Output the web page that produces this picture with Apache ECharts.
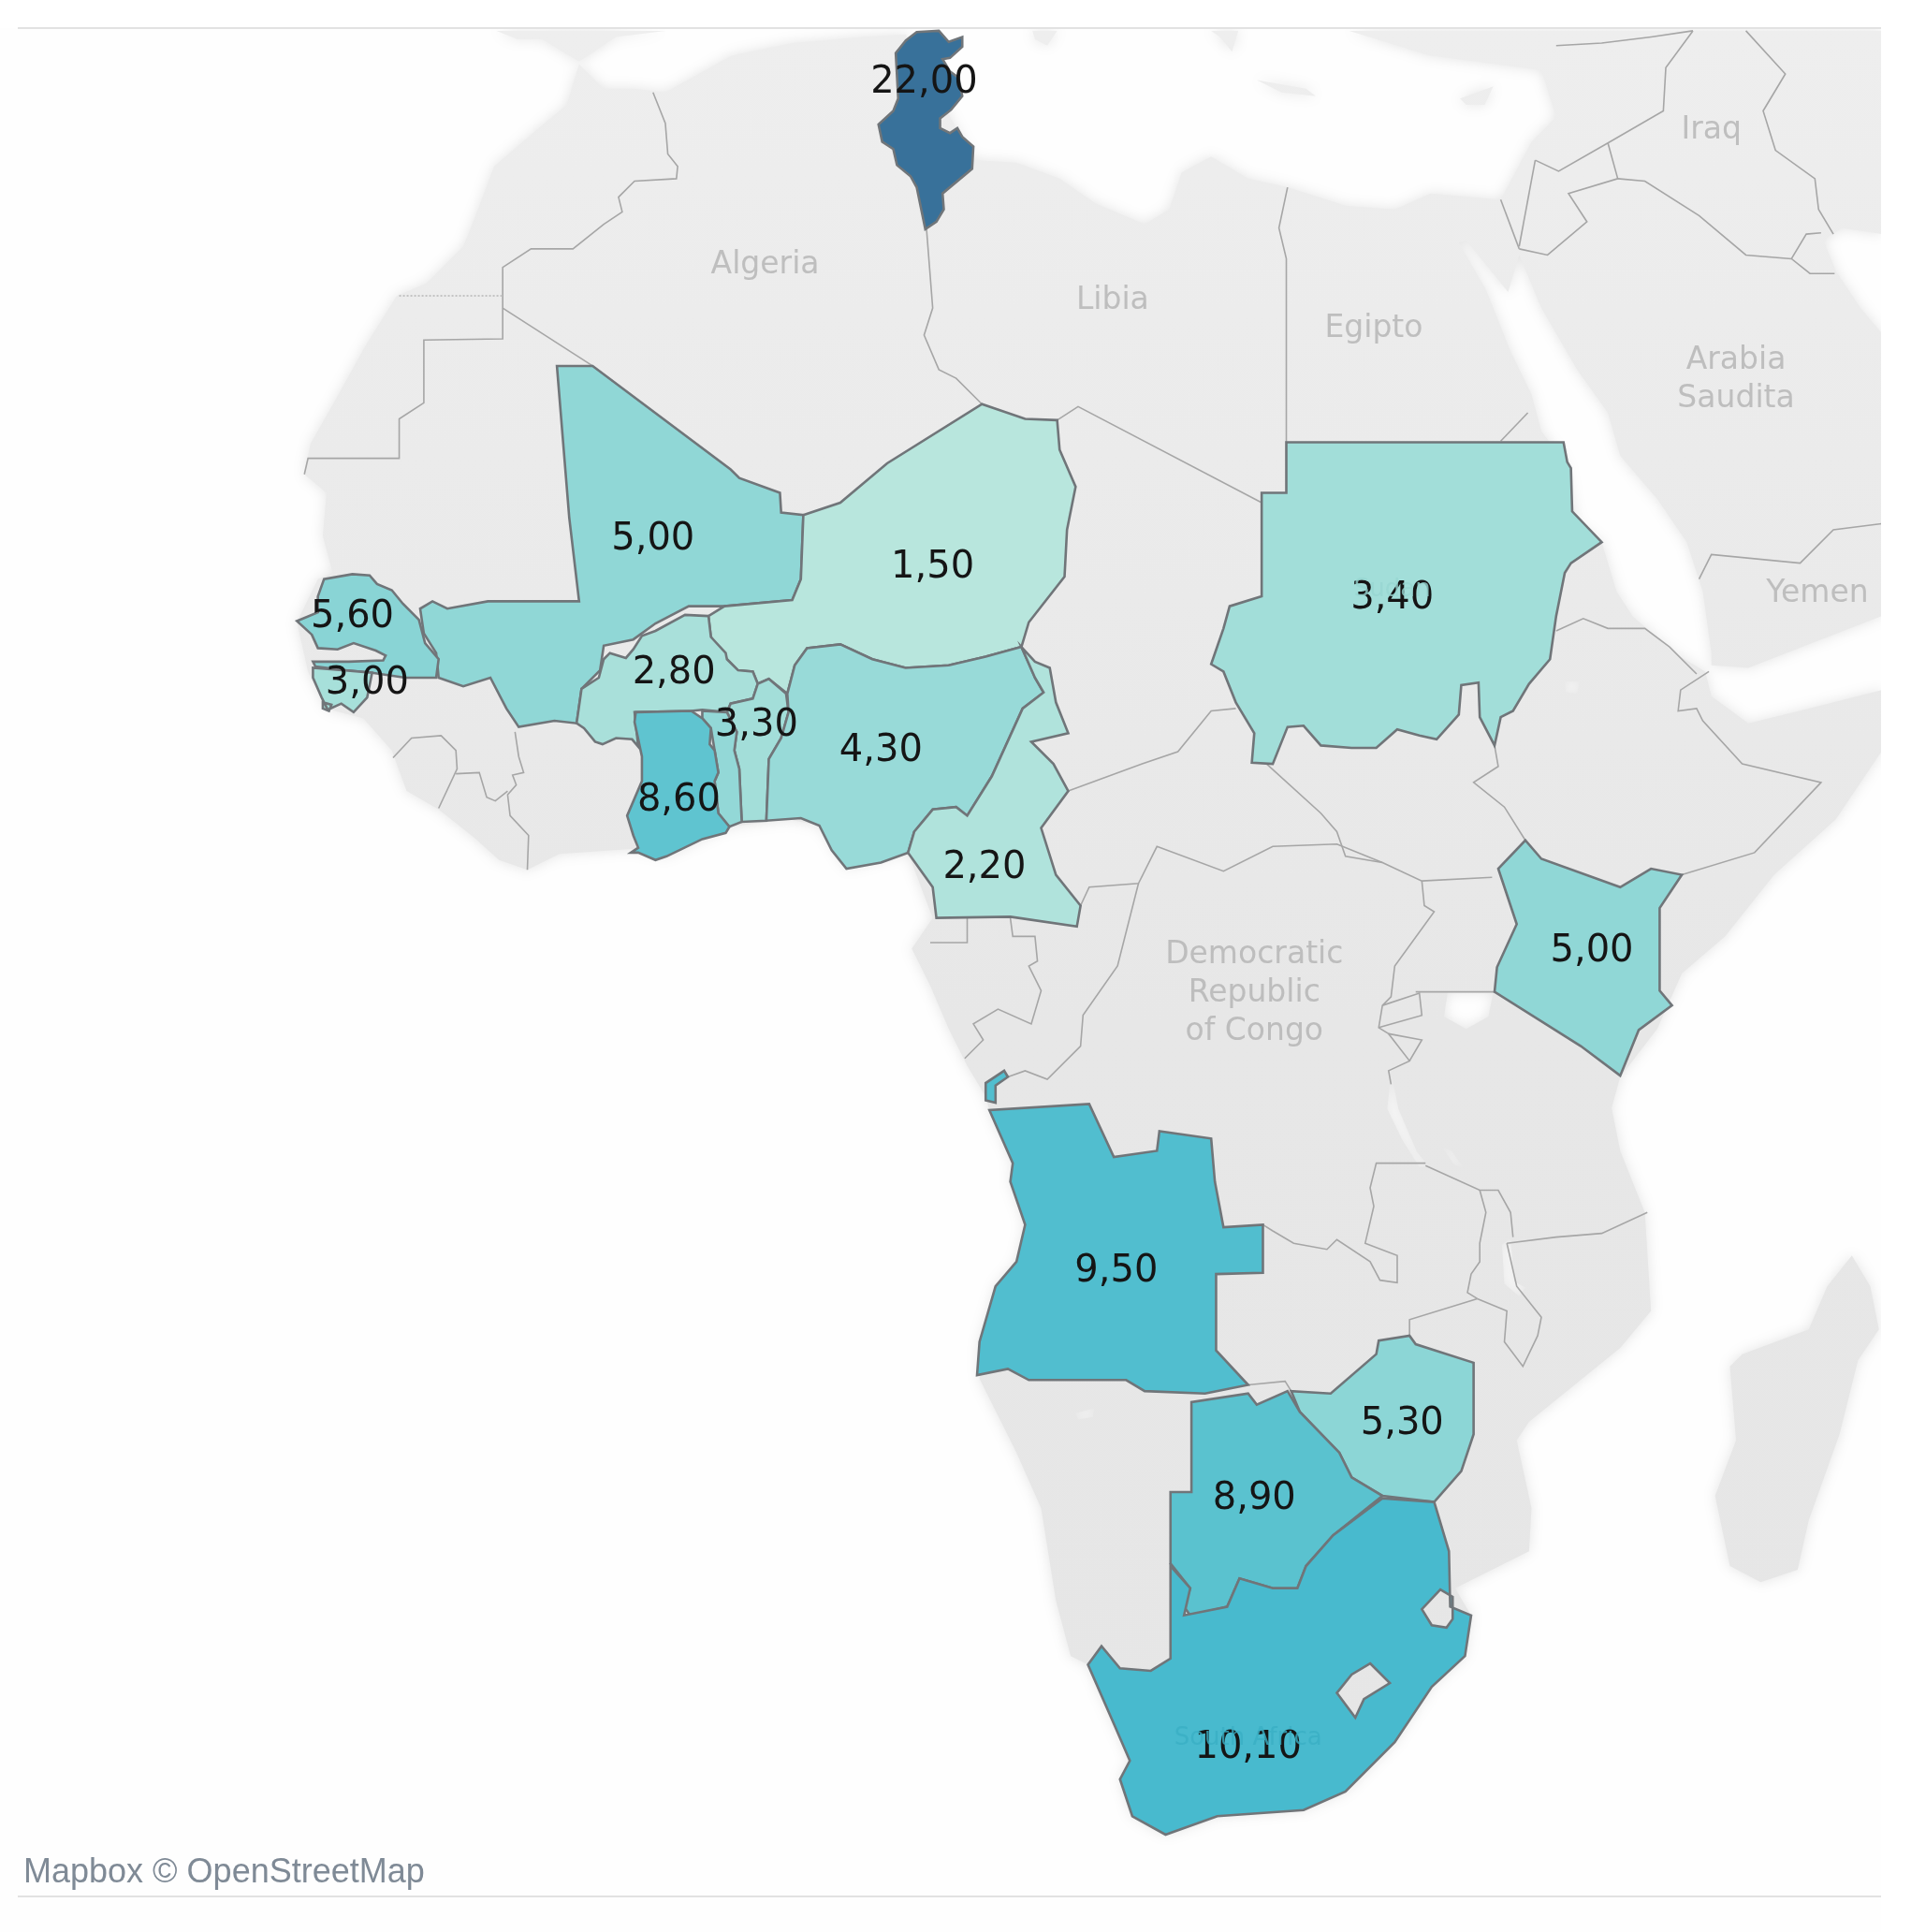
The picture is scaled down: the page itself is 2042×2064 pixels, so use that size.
<!DOCTYPE html>
<html><head><meta charset="utf-8">
<script src="https://cdn.jsdelivr.net/npm/echarts@6/dist/echarts.min.js"></script>
<style>html,body{margin:0;padding:0;background:#fff}#main{width:2042px;height:2064px}</style>
</head><body><div id="main"></div>
<script>
// ---------- data ----------
const countries = ['Tunisia','Mali','Niger','Senegal','Guinea-Bissau','Burkina Faso','Benin','Togo','Ghana','Nigeria','Cameroon','Sudan','Kenya','Angola','Zimbabwe','Botswana','South Africa'];
const values    = [22.0,5.0,1.5,5.6,3.0,2.8,3.3,4.7,8.6,4.3,2.2,3.4,5.0,9.5,5.3,8.9,10.1];
const unlabelled = ['Togo'];
const placeNames = ['Algeria','Libia','Egipto','Iraq','Arabia\nSaudita','Yemen','Democratic\nRepublic\nof Congo','Sudan','South Africa'];
const attribution = 'Mapbox © OpenStreetMap';

// ---------- map geometry (frame 1551 x 1568, y downwards) ----------
const FRAME=[1551,1568];
const shapes = {
 'Tunisia':[[[744,26],[762,25],[770,34],[781,30],[781,38],[771,47],[765,48],[771,58],[778,63],[781,78],[772,89],[763,96],[763,104],[771,108],[777,104],[781,111],[790,119],[789,137],[765,157],[766,170],[760,180],[751,186],[744,152],[739,143],[728,134],[725,121],[716,115],[713,101],[725,90],[729,80],[727,43],[735,33]]],
 'Mali':[[[452,297],[481,297],[593,381],[600,388],[633,400],[634,416],[652,418],[650,470],[643,487],[588,492],[559,492],[532,506],[514,519],[490,524],[487,544],[472,559],[468,587],[450,585],[421,590],[411,575],[398,550],[376,557],[356,550],[354,530],[344,514],[341,494],[351,488],[363,494],[396,488],[470,488],[462,420]]],
 'Niger':[[[652,418],[682,408],[720,376],[797,328],[832,340],[858,341],[860,365],[873,395],[866,430],[864,468],[835,505],[829,525],[800,533],[770,540],[735,542],[708,535],[682,523],[655,526],[645,540],[639,563],[624,551],[615,555],[611,545],[599,544],[590,535],[577,517],[575,500],[588,492],[643,487],[650,470]]],
 'Senegal':[[[241,504],[258,497],[258,484],[263,470],[286,466],[300,467],[306,474],[318,479],[327,490],[340,503],[345,522],[356,535],[354,550],[329,550],[302,546],[280,544],[256,541],[254,537],[283,537],[311,536],[313,532],[305,528],[287,522],[274,527],[258,526],[253,515]]],
 'Guinea-Bissau':[[[254,542],[280,544],[302,546],[298,566],[287,578],[277,571],[266,576],[261,566],[254,550]],[[262,570],[269,572],[267,577],[262,575]]],
 'Burkina Faso':[[[575,500],[556,499],[532,512],[521,516],[514,527],[508,534],[495,530],[490,535],[486,550],[472,559],[468,587],[474,591],[483,602],[489,604],[500,599],[513,600],[518,606],[515,578],[561,577],[570,576],[590,578],[593,571],[611,567],[615,555],[611,545],[599,544],[590,535],[589,530],[577,517]]],
 'Togo':[[[570,577],[590,578],[598,594],[596,609],[600,624],[602,667],[592,671],[583,660],[580,634],[583,627],[580,609],[577,591],[570,583]]],
 'Benin':[[[590,578],[593,571],[611,567],[615,555],[624,551],[638,563],[640,578],[634,599],[624,616],[622,666],[602,667],[600,624],[596,609],[598,594]]],
 'Ghana':[[[516,578],[561,577],[570,583],[577,591],[576,604],[580,609],[583,627],[580,634],[583,660],[592,671],[589,676],[570,681],[541,695],[532,698],[518,692],[512,692],[518,688],[514,678],[509,662],[521,634],[521,614],[515,586]]],
 'Nigeria':[[[624,616],[622,666],[650,664],[665,670],[675,690],[687,705],[715,700],[737,692],[742,675],[757,657],[776,655],[785,662],[805,630],[830,575],[847,562],[840,550],[829,525],[800,533],[770,540],[735,542],[708,535],[682,523],[655,526],[645,540],[639,563],[640,578],[634,599]]],
 'Cameroon':[[[829,525],[840,537],[852,542],[857,570],[867,595],[837,602],[855,620],[867,642],[845,672],[857,710],[877,735],[874,752],[820,744],[760,745],[757,720],[737,692],[742,675],[757,657],[776,655],[785,662],[805,630],[830,575],[847,562],[840,550]]],
 'Sudan':[[[1044,359],[1269,359],[1272,375],[1275,380],[1276,415],[1300,440],[1275,457],[1270,465],[1263,500],[1258,535],[1241,555],[1228,577],[1218,582],[1213,605],[1201,582],[1200,554],[1186,556],[1184,580],[1166,600],[1152,597],[1134,592],[1117,607],[1097,607],[1072,605],[1058,589],[1045,590],[1033,620],[1016,619],[1018,595],[1003,570],[993,545],[983,539],[993,510],[998,492],[1024,484],[1024,400],[1044,400]]],
 'Kenya':[[[1216,705],[1238,682],[1251,697],[1315,720],[1340,705],[1365,710],[1347,737],[1347,804],[1357,816],[1330,836],[1315,873],[1283,849],[1213,805],[1215,785],[1231,750]]],
 'Angola':[[[803,901],[884,896],[904,939],[939,934],[941,918],[983,924],[986,959],[993,996],[1025,994],[1025,1033],[987,1034],[987,1096],[1013,1124],[978,1131],[929,1129],[914,1120],[835,1120],[818,1111],[793,1116],[795,1089],[808,1044],[825,1024],[832,994],[820,959],[822,944]],[[800,879],[815,869],[818,874],[808,881],[808,895],[800,893]]],
 'Zimbabwe':[[[1048,1129],[1080,1131],[1117,1099],[1119,1088],[1144,1084],[1149,1091],[1196,1106],[1196,1164],[1186,1194],[1164,1219],[1122,1214],[1097,1199],[1087,1179],[1055,1146]]],
 'Botswana':[[[967,1138],[1013,1131],[1020,1140],[1045,1129],[1055,1146],[1087,1179],[1097,1199],[1122,1214],[1082,1246],[1060,1271],[1053,1289],[1033,1289],[1006,1281],[996,1304],[966,1311],[961,1304],[966,1289],[950,1269],[950,1211],[967,1211]]]
};
const southAfricaOuter=[[1122,1216],[1164,1219],[1176,1259],[1177,1304],[1194,1311],[1189,1344],[1162,1369],[1132,1414],[1092,1454],[1058,1469],[988,1474],[946,1489],[919,1474],[909,1444],[917,1429],[904,1399],[883,1351],[894,1336],[909,1354],[934,1356],[950,1346],[950,1271],[966,1289],[961,1311],[996,1304],[1006,1281],[1033,1289],[1053,1289],[1060,1271],[1082,1246]];
const swaziland=[[1169,1290],[1179,1296],[1179,1314],[1174,1321],[1162,1319],[1154,1306]];
const lesotho=[[1112,1350],[1128,1366],[1107,1379],[1100,1394],[1085,1374],[1097,1359]];

const mainland=[[470,52],[490,72],[515,72],[540,75],[594,45],[643,35],[700,30],[735,28],[790,130],[825,132],[860,145],[889,165],[929,182],[949,170],[959,140],[983,127],[1013,145],[1045,152],[1092,167],[1132,170],[1161,157],[1218,162],[1243,115],[1263,95],[1251,57],[1160,45],[1095,25],[1527,25],[1527,190],[1495,185],[1480,195],[1490,220],[1510,250],[1527,270],[1527,500],[1419,542],[1389,540],[1389,530],[1382,480],[1369,440],[1345,405],[1315,370],[1305,335],[1280,300],[1251,250],[1233,207],[1224,237],[1190,195],[1184,197],[1206,235],[1226,285],[1243,320],[1251,350],[1270,375],[1280,425],[1300,440],[1312,480],[1325,500],[1359,530],[1384,545],[1389,565],[1419,587],[1468,575],[1527,560],[1527,610],[1490,665],[1440,710],[1400,760],[1365,790],[1345,835],[1315,874],[1308,899],[1315,934],[1335,984],[1340,1064],[1315,1094],[1241,1154],[1231,1169],[1243,1224],[1241,1259],[1181,1289],[1194,1311],[1189,1344],[1162,1369],[1132,1414],[1092,1454],[1058,1469],[988,1474],[946,1489],[919,1474],[909,1444],[917,1429],[904,1399],[883,1351],[869,1344],[857,1299],[845,1224],[825,1179],[795,1119],[795,1089],[808,1044],[825,1024],[832,994],[820,959],[822,944],[803,901],[800,890],[785,865],[770,835],[755,800],[740,770],[757,745],[737,692],[687,705],[665,670],[640,665],[592,671],[541,695],[512,689],[454,693],[428,706],[405,698],[385,680],[356,657],[330,642],[318,609],[295,583],[265,575],[250,545],[241,505],[258,470],[270,465],[262,435],[265,400],[247,385],[252,360],[272,325],[297,280],[322,240],[346,230],[376,200],[386,175],[401,135],[436,105],[460,85]];
const lakes=[
 [[1175,805],[1212,805],[1208,825],[1190,835],[1172,825]],
 [[1129,870],[1135,900],[1150,935],[1160,947],[1152,947],[1138,925],[1126,900]],
 [[1226,1005],[1229,1040],[1238,1045],[1233,1052],[1221,1042],[1219,1010]],
 [[1270,553],[1282,553],[1280,563],[1271,562]],
 [[1170,930],[1178,934],[1188,948],[1180,945]],
 [[873,1147],[888,1143],[887,1150],[875,1152]]
];
const islands=[
 [[403,25],[540,25],[500,30],[470,50],[440,32],[420,32]],
 [[838,25],[858,25],[850,37],[840,32]],
 [[983,25],[1005,25],[1000,42],[990,30]],
 [[1020,65],[1060,72],[1068,78],[1040,75]],
 [[1185,80],[1212,70],[1205,85],[1190,85]],
 [[1503,1019],[1518,1044],[1525,1079],[1508,1104],[1493,1164],[1468,1234],[1459,1274],[1429,1284],[1404,1271],[1392,1214],[1409,1169],[1404,1109],[1414,1099],[1468,1079],[1483,1044]]
];
const borders=[
 [[530,75],[540,100],[542,125],[550,135],[549,145],[515,147],[502,160],[505,172],[490,182],[465,202],[431,202],[408,217],[408,275],[344,276],[344,327],[324,340],[324,372],[250,372],[247,385]],
 [[408,250],[481,297]],
 [[752,186],[757,250],[750,272],[762,300],[776,307],[797,328]],
 [[858,341],[875,330],[1024,408]],
 [[1044,359],[1044,210],[1038,185],[1045,152]],
 [[1218,358],[1240,335]],
 [[867,642],[927,620],[956,610],[983,577],[1003,575]],
 [[877,735],[884,720],[924,717],[939,687],[993,707],[1033,687],[1085,685],[1122,700],[1154,715],[1211,712]],
 [[924,717],[907,784],[879,824],[877,849],[850,876],[832,869],[818,874]],
 [[820,745],[822,760],[840,760],[842,780],[835,784],[845,804],[837,831],[810,819],[790,831],[798,844],[783,859]],
 [[755,765],[785,765],[785,745]],
 [[1028,620],[1072,660],[1085,675],[1092,695],[1122,700]],
 [[1213,605],[1216,622],[1196,635],[1221,655],[1238,682]],
 [[1365,710],[1424,692],[1478,635],[1414,620],[1382,585],[1377,575],[1362,577],[1364,560],[1387,545]],
 [[1263,512],[1285,502],[1305,510],[1335,510],[1355,525],[1377,547]],
 [[1154,715],[1156,735],[1164,740],[1132,784],[1129,809],[1122,816],[1119,834],[1127,839],[1144,861],[1127,869],[1129,880]],
 [[1122,816],[1152,806],[1154,824],[1119,834]],
 [[1127,839],[1154,844],[1144,861]],
 [[1149,805],[1213,805]],
 [[1157,944],[1117,944],[1112,964],[1115,979],[1108,1009],[1134,1019],[1134,1041],[1120,1039],[1112,1024],[1085,1006],[1077,1014],[1050,1009],[1033,999],[1025,994]],
 [[1157,946],[1201,966],[1216,966],[1226,984],[1228,1004]],
 [[1201,966],[1206,984],[1201,1009],[1201,1024],[1194,1034],[1191,1049],[1199,1054]],
 [[1199,1054],[1144,1071],[1144,1084]],
 [[1199,1054],[1223,1064],[1221,1089],[1236,1109],[1248,1084],[1251,1069],[1231,1044],[1223,1009]],
 [[1223,1009],[1263,1004],[1300,1001],[1337,984]],
 [[1013,1124],[1043,1121],[1048,1129]],
 [[319,615],[334,599],[358,597],[370,609],[371,624],[356,656]],
 [[370,628],[389,627],[395,647],[402,650],[412,642]],
 [[418,594],[421,614],[425,627],[416,629],[419,637],[412,645],[414,662],[429,678],[428,706]],
 [[1263,37],[1300,35],[1340,30],[1374,25]],
 [[1374,25],[1352,55],[1350,90],[1305,116],[1265,139],[1246,130]],
 [[1305,116],[1313,145],[1273,157],[1288,180],[1256,207],[1233,202]],
 [[1246,130],[1233,200]],
 [[1218,162],[1233,202]],
 [[1313,145],[1335,147],[1379,175],[1417,207],[1454,210],[1469,222],[1489,222]],
 [[1454,210],[1466,190],[1478,189]],
 [[1417,25],[1449,60],[1431,90],[1441,122],[1473,145],[1476,170],[1488,190]],
 [[1379,470],[1389,450],[1461,457],[1488,430],[1527,425]]
];
const dottedBorder=[[324,240],[408,240]];
const valueAnchors={'Tunisia':[750,67],'Mali':[530,438],'Niger':[757,461],'Senegal':[286,501],'Guinea-Bissau':[298,555],'Burkina Faso':[547,547],'Benin':[614,589],'Togo':[590,620],'Ghana':[551,650],'Nigeria':[715,610],'Cameroon':[799,705],'Sudan':[1130,486],'Kenya':[1292,772],'Angola':[906,1032],'Zimbabwe':[1138,1156],'Botswana':[1018,1217],'South Africa':[1013,1419]};
const placeAnchors=[[621,215],[903,244],[1115,267],[1389,106],[1409,308],[1475,482],[1018,806],[1130,479],[1013,1411]];
const placeColors=['#b3b3b3','#b3b3b3','#b3b3b3','#b3b3b3','#b3b3b3','#b3b3b3','#b3b3b3','#97d6d1','#3aafc4'];
const placeSizes=[33,33,33,33,33,33,33,26,26];

// ---------- helpers ----------
const flip=p=>[p[0],-p[1]];
const area=r=>r.reduce((s,p,i)=>{const q=r[(i+1)%r.length];return s+p[0]*q[1]-q[0]*p[1];},0);
function ring(pts,wantPositive){
  let r=pts.map(flip);
  if((area(r)>0)!==wantPositive) r=r.slice().reverse();
  return r.concat([r[0]]);
}
function feature(name,polys,cp){
  return {type:'Feature',properties:{name,cp:cp?flip(cp):undefined},
    geometry:{type:'MultiPolygon',coordinates:polys.map(p=>[ring(p.outer,true)].concat((p.holes||[]).map(h=>ring(h,false))))}};
}
const countryFeatures=countries.map(n=>{
  if(n==='South Africa') return feature(n,[{outer:southAfricaOuter,holes:[swaziland,lesotho]}],valueAnchors[n]);
  return feature(n,shapes[n].map(o=>({outer:o})),valueAnchors[n]);
});
echarts.registerMap('countries',{type:'FeatureCollection',features:countryFeatures});
echarts.registerMap('land',{type:'FeatureCollection',features:[
  feature('Land',[{outer:mainland,holes:lakes}].concat(islands.map(o=>({outer:o}))),null)
]});
const bounds=[[0,0],[FRAME[0],-FRAME[1]]];
const box={left:0,top:0,width:2042,height:2064};
const comma=v=>v.toFixed(2).replace('.',',');

const chart=echarts.init(document.getElementById('main'),null,{renderer:'canvas'});
chart.setOption({
  animation:false,
  backgroundColor:'#fefefe',
  tooltip:{show:false},
  visualMap:{show:false,type:'continuous',seriesIndex:1,min:1.5,max:22,
    inRange:{color:['#b8e6dd','#7dd0d3','#2fb0cb','#3390b3','#38719a']}},
  geo:Object.assign({map:'land',aspectScale:1,boundingCoords:bounds,silent:true,roam:false,z:1,
    itemStyle:{areaColor:{type:'linear',x:0,y:0,x2:0,y2:1,colorStops:[{offset:0,color:'#eeeeee'},{offset:0.55,color:'#e7e7e7'},{offset:1,color:'#e6e6e6'}]},
      borderWidth:0,shadowBlur:14,shadowColor:'rgba(225,225,225,0.9)'},
    label:{show:false},emphasis:{disabled:true}},box),
  series:[
    {type:'lines',coordinateSystem:'geo',polyline:true,silent:true,z:2,
      lineStyle:{color:'#a6a6a6',width:1.6,opacity:1},
      data:borders.map(b=>({coords:b.map(flip)})).concat([{coords:dottedBorder.map(flip),lineStyle:{type:'dotted',color:'#c4c4c4',width:2}}])},
    Object.assign({type:'map',map:'countries',aspectScale:1,boundingCoords:bounds,silent:true,roam:false,z:3,
      itemStyle:{borderColor:'#707579',borderWidth:2.6},
      label:{show:true,color:'#151515',fontFamily:'DejaVu Sans',fontSize:40,
        formatter:p=>unlabelled.includes(p.name)?'':comma(p.value)},
      emphasis:{disabled:true},
      data:countries.map((n,i)=>({name:n,value:values[i]}))},box),
    {type:'scatter',coordinateSystem:'geo',silent:true,z:4,symbolSize:1,itemStyle:{color:'transparent'},
      label:{show:true,position:'inside',fontFamily:'DejaVu Sans',lineHeight:41,align:'center',verticalAlign:'middle',
        formatter:p=>p.name},
      data:placeNames.map((n,i)=>({name:n,value:flip(placeAnchors[i]),label:{color:placeColors[i],fontSize:placeSizes[i]}}))}
  ],
  graphic:[
    {type:'rect',silent:true,z:10,shape:{x:2010,y:0,width:32,height:2064},style:{fill:'#fff'}},
    {type:'rect',silent:true,z:10,shape:{x:0,y:0,width:2042,height:30},style:{fill:'#fff'}},
    {type:'rect',silent:true,z:11,shape:{x:19,y:29,width:1991,height:2},style:{fill:'#e2e2e2'}},
    {type:'rect',silent:true,z:11,shape:{x:19,y:2025,width:1991,height:2},style:{fill:'#e2e2e2'}},
    {type:'text',silent:true,z:11,left:25,top:1983,style:{text:attribution,fill:'#7f8a96',font:'36px "Liberation Sans"'}}
  ]
});
</script></body></html>
